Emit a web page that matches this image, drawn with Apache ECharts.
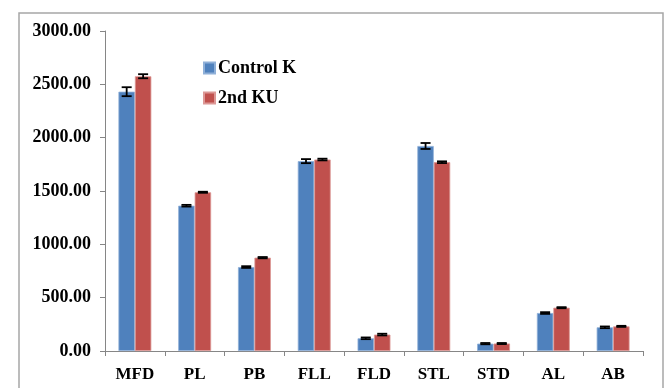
<!DOCTYPE html>
<html>
<head>
<meta charset="utf-8">
<script src="https://cdn.jsdelivr.net/npm/echarts@6/dist/echarts.min.js"></script>
<style>
  html, body { margin: 0; padding: 0; background: #fff; }
  #chart { width: 669px; height: 388px; }
</style>
</head>
<body>
<div id="chart"></div>
<script>
// Trait measurements, mean ± error, for the two groups
const categories = ['MFD', 'PL', 'PB', 'FLL', 'FLD', 'STL', 'STD', 'AL', 'AB'];
const seriesNames = ['Control K', '2nd KU'];
const controlK = [2431, 1362, 787, 1780, 119, 1922, 69, 356, 222];
const controlKErr = [42, 8, 8, 19, 8, 28, 6, 8, 8];
const secondKU = [2576, 1488, 875, 1795, 154, 1770, 70, 406, 231];
const secondKUErr = [19, 5, 6, 8, 8, 8, 5, 5, 5];
const yTicks = [0, 500, 1000, 1500, 2000, 2500, 3000];

const colors = ['#4F81BD', '#C0504D'];
const FONT = "'Liberation Serif', 'Times New Roman', serif";
const CATEGORY_GAP = 0.45;

const chart = echarts.init(document.getElementById('chart'), null, { renderer: 'canvas' });

// Error bar drawn at the centre of its own bar within the category band
function errorBarSeries(name, values, errs, index) {
  const data = values.map((v, i) => [i, v - errs[i], v + errs[i]]);
  return {
    type: 'custom',
    name: name + ' error',
    z: 10,
    silent: true,
    data: data,
    renderItem: function (params, api) {
      const cat = api.value(0);
      const lo = api.coord([cat, api.value(1)]);
      const hi = api.coord([cat, api.value(2)]);
      const band = api.size([1, 0])[0];
      const barW = band * (1 - CATEGORY_GAP) / 2;
      const x = lo[0] + (index === 0 ? -barW / 2 : barW / 2);
      const cap = 5;
      const style = { stroke: '#000', lineWidth: 1.8 };
      return {
        type: 'group',
        children: [
          { type: 'line', shape: { x1: x, y1: lo[1], x2: x, y2: hi[1] }, style: style },
          { type: 'line', shape: { x1: x - cap, y1: lo[1], x2: x + cap, y2: lo[1] }, style: style },
          { type: 'line', shape: { x1: x - cap, y1: hi[1], x2: x + cap, y2: hi[1] }, style: style }
        ]
      };
    }
  };
}

const option = {
  animation: false,
  backgroundColor: '#fff',
  graphic: [{
    type: 'rect',
    shape: { x: 19, y: 13, width: 644, height: 400 },
    style: { fill: 'none', stroke: '#a6a6a6', lineWidth: 1.5 },
    silent: true
  }],
  legend: {
    orient: 'vertical',
    left: 198,
    top: 54,
    itemWidth: 11,
    itemHeight: 11,
    itemGap: 12,
    icon: 'rect',
    data: seriesNames,
    textStyle: { fontFamily: FONT, fontWeight: 'bold', fontSize: 18, color: '#000', padding: [0, 0, 0, -2] }
  },
  grid: { left: 105, right: 26, top: 31, bottom: 37 },
  xAxis: {
    type: 'category',
    data: categories,
    boundaryGap: true,
    axisLine: { lineStyle: { color: '#868686', width: 1 } },
    axisTick: { show: true, length: 5, lineStyle: { color: '#868686' } },
    axisLabel: { fontFamily: FONT, fontWeight: 'bold', fontSize: 17, color: '#000', margin: 15 }
  },
  yAxis: {
    type: 'value',
    min: yTicks[0],
    max: yTicks[yTicks.length - 1],
    interval: yTicks[1] - yTicks[0],
    splitLine: { show: false },
    axisLine: { show: true, lineStyle: { color: '#868686', width: 1 } },
    axisTick: { show: true, length: 5, lineStyle: { color: '#868686' } },
    axisLabel: {
      fontFamily: FONT, fontWeight: 'bold', fontSize: 18, color: '#000', margin: 14,
      formatter: v => v.toFixed(2)
    }
  },
  series: [
    {
      type: 'bar',
      name: seriesNames[0],
      data: controlK,
      barGap: '0%',
      barCategoryGap: (CATEGORY_GAP * 100) + '%',
      itemStyle: { color: colors[0], borderColor: '#8fb0d8', borderWidth: 0.8 }
    },
    {
      type: 'bar',
      name: seriesNames[1],
      data: secondKU,
      barGap: '0%',
      barCategoryGap: (CATEGORY_GAP * 100) + '%',
      itemStyle: { color: colors[1], borderColor: '#dc9896', borderWidth: 0.8 }
    },
    errorBarSeries(seriesNames[0], controlK, controlKErr, 0),
    errorBarSeries(seriesNames[1], secondKU, secondKUErr, 1)
  ]
};

chart.setOption(option);
</script>
</body>
</html>
